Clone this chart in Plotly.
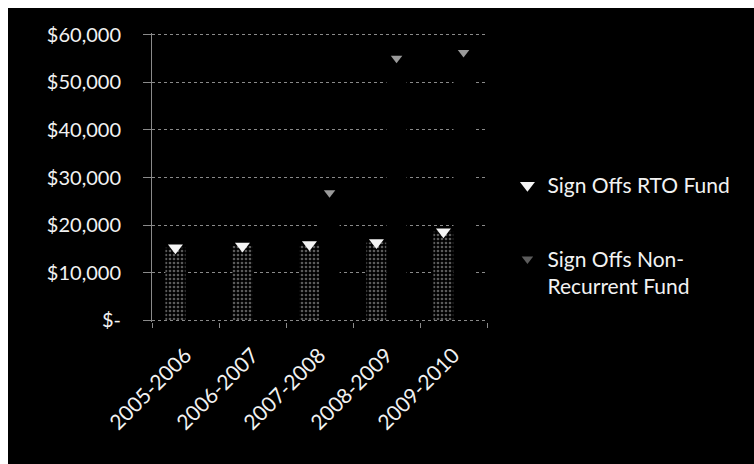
import plotly.graph_objects as go

# fiscal years and sign-off totals
years = ['2005-2006', '2006-2007', '2007-2008', '2008-2009', '2009-2010']
rto_fund = [15200, 15600, 15900, 16300, 18600]
non_recurrent_fund = [0, 0, 26800, 55100, 56300]

y_ticks = [0, 10000, 20000, 30000, 40000, 50000, 60000]
y_labels = ['$-', '$10,000', '$20,000', '$30,000', '$40,000', '$50,000', '$60,000']

font = dict(family='Lato, Open Sans, sans-serif', size=21, color='#f2f2f2')

fig = go.Figure()

# the columns themselves (RTO dotted grey, Non-Recurrent black so it hides the grid)
fig.add_trace(go.Bar(x=years, y=rto_fund, offsetgroup='a', showlegend=False,
                     marker=dict(color='#000000', line_width=0,
                                 pattern=dict(shape='.', fgcolor='#b5b5b5', bgcolor='#000000',
                                              size=4, solidity=0.35))))
fig.add_trace(go.Bar(x=years, y=non_recurrent_fund, offsetgroup='b', showlegend=False,
                     marker=dict(color='#000000', line_width=0)))

# cone caps on top of each column, these also give the legend symbols
fig.add_trace(go.Scatter(x=years, y=rto_fund, mode='markers', offsetgroup='a',
                         name='Sign Offs RTO Fund', legend='legend',
                         marker=dict(symbol='triangle-down', size=13, color='#f4f4f4')))
fig.add_trace(go.Scatter(x=years, y=non_recurrent_fund, mode='markers', offsetgroup='b',
                         name='Sign Offs Non-<br>Recurrent Fund', legend='legend2',
                         marker=dict(symbol='triangle-down', size=10, color='#9a9a9a',
                                     opacity=[0 if v == 0 else 1 for v in non_recurrent_fund])))

fig.update_layout(
    width=746, height=456,
    margin=dict(l=144, r=267, t=25, b=142),
    paper_bgcolor='#000000', plot_bgcolor='#000000',
    font=font,
    barmode='group', bargap=0.4,
    scattermode='group', scattergap=0.4,
    legend=dict(x=1.061, y=0.472, xanchor='left', yanchor='middle', font=font,
                bgcolor='rgba(0,0,0,0)'),
    legend2=dict(x=1.061, y=0.17, xanchor='left', yanchor='middle', font=font,
                 valign='top', bgcolor='rgba(0,0,0,0)'),
)
# range padded a little so the 0 and 60,000 dotted lines are drawn too
fig.update_yaxes(range=[-400, 60400], tickvals=y_ticks, ticktext=y_labels,
                 tickfont=dict(size=20),
                 showgrid=True, gridcolor='#8a8a8a', griddash='dot', gridwidth=1,
                 showline=True, linecolor='#8a8a8a', linewidth=1,
                 ticks='outside', ticklen=8, tickcolor='#8a8a8a',
                 ticklabelstandoff=18, zeroline=False)
fig.update_xaxes(showgrid=False, tickangle=-45, tickson='boundaries',
                 showline=False, ticks='outside', ticklen=5, tickcolor='#8a8a8a',
                 ticklabelstandoff=16)

# the scan has a white strip only on the top and left edges
page_css = "document.body.style.margin='8px 0 0 8px';document.body.style.overflow='hidden';"
fig.write_html("out.html", post_script=page_css)
